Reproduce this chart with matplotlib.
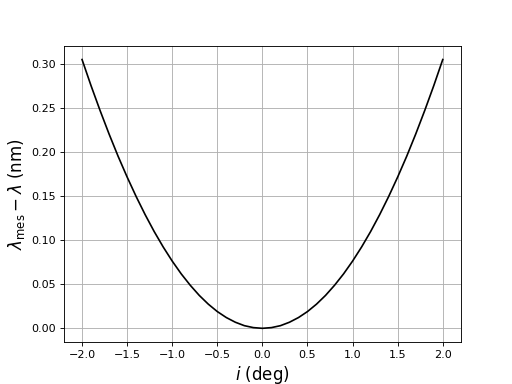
import numpy as np
import matplotlib
matplotlib.use("Agg")
import matplotlib.pyplot as plt

angle_deg = [-2.0, -1.9, -1.8, -1.7, -1.6, -1.5, -1.4, -1.3, -1.2, -1.1,
             -1.0, -0.9, -0.8, -0.7, -0.6, -0.5, -0.4, -0.3, -0.2, -0.1,
             0.0, 0.1, 0.2, 0.3, 0.4, 0.5, 0.6, 0.7, 0.8, 0.9,
             1.0, 1.1, 1.2, 1.3, 1.4, 1.5, 1.6, 1.7, 1.8, 1.9, 2.0]
half_shift = [0.0, 0.0008, 0.0030, 0.0069, 0.0122, 0.0190, 0.0274, 0.0373,
              0.0488, 0.0617, 0.0762, 0.0922, 0.1097, 0.1288, 0.1494,
              0.1715, 0.1950, 0.2202, 0.2469, 0.2750, 0.3047]
shift_nm = half_shift[::-1] + half_shift[1:]

fig = plt.figure(figsize=(6.4, 4.8), dpi=80)
ax = fig.add_subplot(111)
ax.plot(angle_deg, shift_nm, color="black")
ax.grid(True)
ax.set_xlabel(r"$i$ (deg)", fontsize=15)
ax.set_ylabel(r"$\lambda_{\rm mes} - \lambda$ (nm)", fontsize=15)

fig.savefig("out.png", dpi=80)
